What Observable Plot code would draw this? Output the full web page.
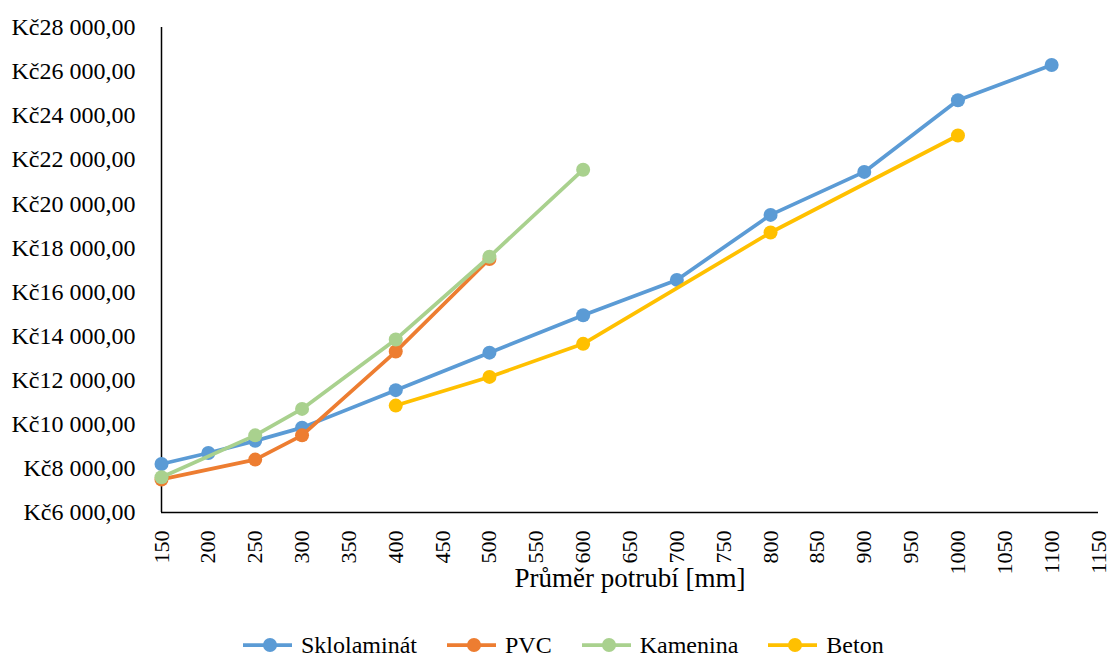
<!DOCTYPE html>
<html>
<head>
<meta charset="utf-8">
<script src="https://cdn.jsdelivr.net/npm/d3@7"></script>
<script src="https://cdn.jsdelivr.net/npm/@observablehq/plot@0.6"></script>
<style>
  body { margin: 0; background: #fff; font-family: "Times New Roman", "Liberation Serif", serif; }
  #chart svg { display: block; }
  .legend { display: flex; align-items: center; height: 24px; margin-top: 18px; padding-left: 243px; font-size: 24px; color: #000; }
  .legend .item { display: flex; align-items: center; margin-right: 30px; }
  .legend svg { margin-right: 9px; }
</style>
</head>
<body>
<div id="chart"></div>
<div class="legend" id="legend"></div>
<script>
// Pipe price by nominal diameter, per material
const seriesNames = ["Sklolaminát", "PVC", "Kamenina", "Beton"];
const seriesColors = ["#5B9BD5", "#ED7D31", "#A9D18E", "#FFC000"];

const sklolaminatX = [150, 200, 250, 300, 400, 500, 600, 700, 800, 900, 1000, 1100];
const sklolaminatY = [8200, 8700, 9250, 9850, 11550, 13250, 14950, 16550, 19500, 21450, 24700, 26300];

const pvcX = [150, 250, 300, 400, 500];
const pvcY = [7500, 8400, 9500, 13300, 17500];

const kameninaX = [150, 250, 300, 400, 500, 600];
const kameninaY = [7600, 9500, 10700, 13850, 17600, 21550];

const betonX = [400, 500, 600, 800, 1000];
const betonY = [10850, 12150, 13650, 18700, 23100];

const xTicks = d3.range(150, 1151, 50);
const yTicks = d3.range(6000, 28001, 2000);

const xLabel = "Průměr potrubí [mm]";

const seriesXs = [sklolaminatX, pvcX, kameninaX, betonX];
const seriesYs = [sklolaminatY, pvcY, kameninaY, betonY];

const serif = "'Times New Roman', 'Liberation Serif', serif";
const czk = d3.formatLocale({decimal: ",", thousands: "\u00a0", grouping: [3], currency: ["Kč", ""]}).format("$,.2f");

const seriesMarks = seriesNames.flatMap((name, i) => {
  const rows = seriesXs[i].map((x, j) => ({material: name, d: x, price: seriesYs[i][j]}));
  return [
    Plot.line(rows, {x: "d", y: "price", stroke: seriesColors[i], strokeWidth: 3.75}),
    Plot.dot(rows, {x: "d", y: "price", r: 7, fill: seriesColors[i], stroke: "none"})
  ];
});

const chart = Plot.plot({
  width: 1111,
  height: 615,
  marginLeft: 161,
  marginRight: 13,
  marginTop: 27,
  marginBottom: 103,
  style: {fontFamily: serif, fontSize: "24px", color: "#000", background: "#fff"},
  x: {domain: [150, 1150], ticks: xTicks},
  y: {domain: [6000, 28000], ticks: yTicks},
  marks: [
    Plot.axisY({ticks: yTicks, tickFormat: czk, tickSize: 0, tickPadding: 26, label: null, fontSize: 24, fontFamily: serif}),
    Plot.axisX({ticks: xTicks, tickFormat: d => String(d), tickSize: 0, tickPadding: 18, tickRotate: -90, label: null, fontSize: 22, fontFamily: serif}),
    Plot.ruleX([150], {stroke: "#000", strokeWidth: 1.5}),
    Plot.ruleY([6000], {stroke: "#000", strokeWidth: 1.5}),
    Plot.text([xLabel], {frameAnchor: "bottom", dy: 66, text: d => d, fontSize: 27, fontFamily: serif, lineAnchor: "middle"}),
    ...seriesMarks
  ]
});
document.getElementById("chart").append(chart);

// Legend below the plot: a short line with a marker for each series
const legend = d3.select("#legend");
seriesNames.forEach((name, i) => {
  const item = legend.append("div").attr("class", "item");
  const svg = item.append("svg").attr("width", 49).attr("height", 16);
  svg.append("line").attr("x1", 0).attr("x2", 49).attr("y1", 8).attr("y2", 8)
    .attr("stroke", seriesColors[i]).attr("stroke-width", 3.75);
  svg.append("circle").attr("cx", 27).attr("cy", 8).attr("r", 7).attr("fill", seriesColors[i]);
  item.append("span").text(name);
});
</script>
</body>
</html>
